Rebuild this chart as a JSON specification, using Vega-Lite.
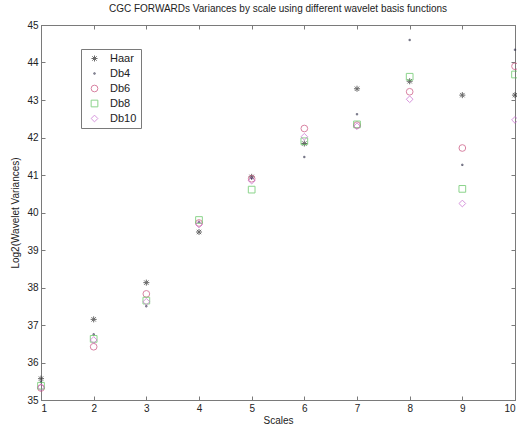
{
  "$schema": "https://vega.github.io/schema/vega-lite/v6.json",
  "width": 474,
  "height": 375,
  "autosize": {"type": "none"},
  "padding": {"left": 41, "top": 25, "right": 2, "bottom": 29},
  "background": "white",
  "config": {
    "font": "Liberation Sans",
    "view": {"stroke": "#7a7a7a", "strokeWidth": 1},
    "axis": {"grid": false, "domain": true, "ticks": true, "domainColor": "#7a7a7a", "tickColor": "#7a7a7a", "labelColor": "#222222", "labelFontSize": 10, "titleFontSize": 10, "titleFontWeight": "normal", "titleColor": "#222222"}
  },
  "title": {"text": "CGC FORWARDs Variances by scale using different wavelet basis functions", "fontSize": 10, "fontWeight": "normal", "color": "#222222", "offset": 6, "anchor": "middle"},
  "data": {
    "values": [
      {"scale": 1, "wavelet": "Haar", "value": 35.57},
      {"scale": 1, "wavelet": "Db4", "value": 35.48},
      {"scale": 1, "wavelet": "Db6", "value": 35.32},
      {"scale": 1, "wavelet": "Db8", "value": 35.38},
      {"scale": 1, "wavelet": "Db10", "value": 35.34},
      {"scale": 2, "wavelet": "Haar", "value": 37.15},
      {"scale": 2, "wavelet": "Db4", "value": 36.75},
      {"scale": 2, "wavelet": "Db6", "value": 36.42},
      {"scale": 2, "wavelet": "Db8", "value": 36.63},
      {"scale": 2, "wavelet": "Db10", "value": 36.6},
      {"scale": 3, "wavelet": "Haar", "value": 38.13},
      {"scale": 3, "wavelet": "Db4", "value": 37.5},
      {"scale": 3, "wavelet": "Db6", "value": 37.83},
      {"scale": 3, "wavelet": "Db8", "value": 37.65},
      {"scale": 3, "wavelet": "Db10", "value": 37.62},
      {"scale": 4, "wavelet": "Haar", "value": 39.48},
      {"scale": 4, "wavelet": "Db4", "value": 39.75},
      {"scale": 4, "wavelet": "Db6", "value": 39.72},
      {"scale": 4, "wavelet": "Db8", "value": 39.8},
      {"scale": 4, "wavelet": "Db10", "value": 39.68},
      {"scale": 5, "wavelet": "Haar", "value": 40.95},
      {"scale": 5, "wavelet": "Db4", "value": 40.92},
      {"scale": 5, "wavelet": "Db6", "value": 40.9},
      {"scale": 5, "wavelet": "Db8", "value": 40.61},
      {"scale": 5, "wavelet": "Db10", "value": 40.85},
      {"scale": 6, "wavelet": "Haar", "value": 41.84},
      {"scale": 6, "wavelet": "Db4", "value": 41.48},
      {"scale": 6, "wavelet": "Db6", "value": 42.24},
      {"scale": 6, "wavelet": "Db8", "value": 41.9},
      {"scale": 6, "wavelet": "Db10", "value": 42.02},
      {"scale": 7, "wavelet": "Haar", "value": 43.3},
      {"scale": 7, "wavelet": "Db4", "value": 42.62},
      {"scale": 7, "wavelet": "Db6", "value": 42.33},
      {"scale": 7, "wavelet": "Db8", "value": 42.35},
      {"scale": 7, "wavelet": "Db10", "value": 42.3},
      {"scale": 8, "wavelet": "Haar", "value": 43.5},
      {"scale": 8, "wavelet": "Db4", "value": 44.6},
      {"scale": 8, "wavelet": "Db6", "value": 43.22},
      {"scale": 8, "wavelet": "Db8", "value": 43.62},
      {"scale": 8, "wavelet": "Db10", "value": 43.02},
      {"scale": 9, "wavelet": "Haar", "value": 43.13},
      {"scale": 9, "wavelet": "Db4", "value": 41.27},
      {"scale": 9, "wavelet": "Db6", "value": 41.72},
      {"scale": 9, "wavelet": "Db8", "value": 40.63},
      {"scale": 9, "wavelet": "Db10", "value": 40.24},
      {"scale": 10, "wavelet": "Haar", "value": 43.13},
      {"scale": 10, "wavelet": "Db4", "value": 44.34},
      {"scale": 10, "wavelet": "Db6", "value": 43.9},
      {"scale": 10, "wavelet": "Db8", "value": 43.68},
      {"scale": 10, "wavelet": "Db10", "value": 42.47}
    ]
  },
  "layer": [
    {
      "mark": {"type": "point", "filled": false, "strokeWidth": 1, "size": 45, "clip": false},
      "encoding": {
        "x": {"field": "scale", "type": "quantitative", "scale": {"domain": [1, 10], "nice": false, "zero": false},
          "axis": {"title": "Scales", "values": [1,2,3,4,5,6,7,8,9,10], "tickSize": -4, "labelPadding": 7, "titlePadding": 2, "format": "d"}},
        "y": {"field": "value", "type": "quantitative", "scale": {"domain": [35, 45], "nice": false, "zero": false},
          "axis": {"title": "Log2(Wavelet Variances)", "values": [35,36,37,38,39,40,41,42,43,44,45], "tickSize": -4, "labelPadding": 7, "titlePadding": 6}},
        "shape": {"field": "wavelet", "type": "nominal", "sort": ["Haar","Db4","Db6","Db8","Db10"],
          "scale": {"domain": ["Haar","Db4","Db6","Db8","Db10"], "range": ["M-0.9,0L0.9,0M0,-0.9L0,0.9M-0.65,-0.65L0.65,0.65M-0.65,0.65L0.65,-0.65", "M-0.2,-0.2L0.2,-0.2L0.2,0.2L-0.2,0.2Z", "circle", "square", "diamond"]},
          "legend": {"orient": "none", "legendX": 40, "legendY": 24, "title": null, "strokeColor": "#7a7a7a", "fillColor": "white", "padding": 4, "labelOffset": 10, "labelFontSize": 11, "labelColor": "#222222", "rowPadding": 3, "symbolStrokeWidth": 1, "symbolSize": 45, "symbolOffset": 4}},
        "color": {"field": "wavelet", "type": "nominal", "sort": ["Haar","Db4","Db6","Db8","Db10"],
          "scale": {"domain": ["Haar","Db4","Db6","Db8","Db10"], "range": ["#2a2a2a", "#2a2a44", "#c94f7c", "#5cc35c", "#c86ad0"]}}
      }
    },
    {
      "mark": {"type": "point", "opacity": 0},
      "encoding": {
        "x": {"field": "scale", "type": "quantitative", "axis": {"orient": "top", "labels": false, "title": null, "values": [1,2,3,4,5,6,7,8,9,10], "tickSize": -4}},
        "y": {"field": "value", "type": "quantitative", "axis": {"orient": "right", "labels": false, "title": null, "values": [35,36,37,38,39,40,41,42,43,44,45], "tickSize": -4}}
      }
    }
  ],
  "resolve": {"axis": {"x": "independent", "y": "independent"}}
}
